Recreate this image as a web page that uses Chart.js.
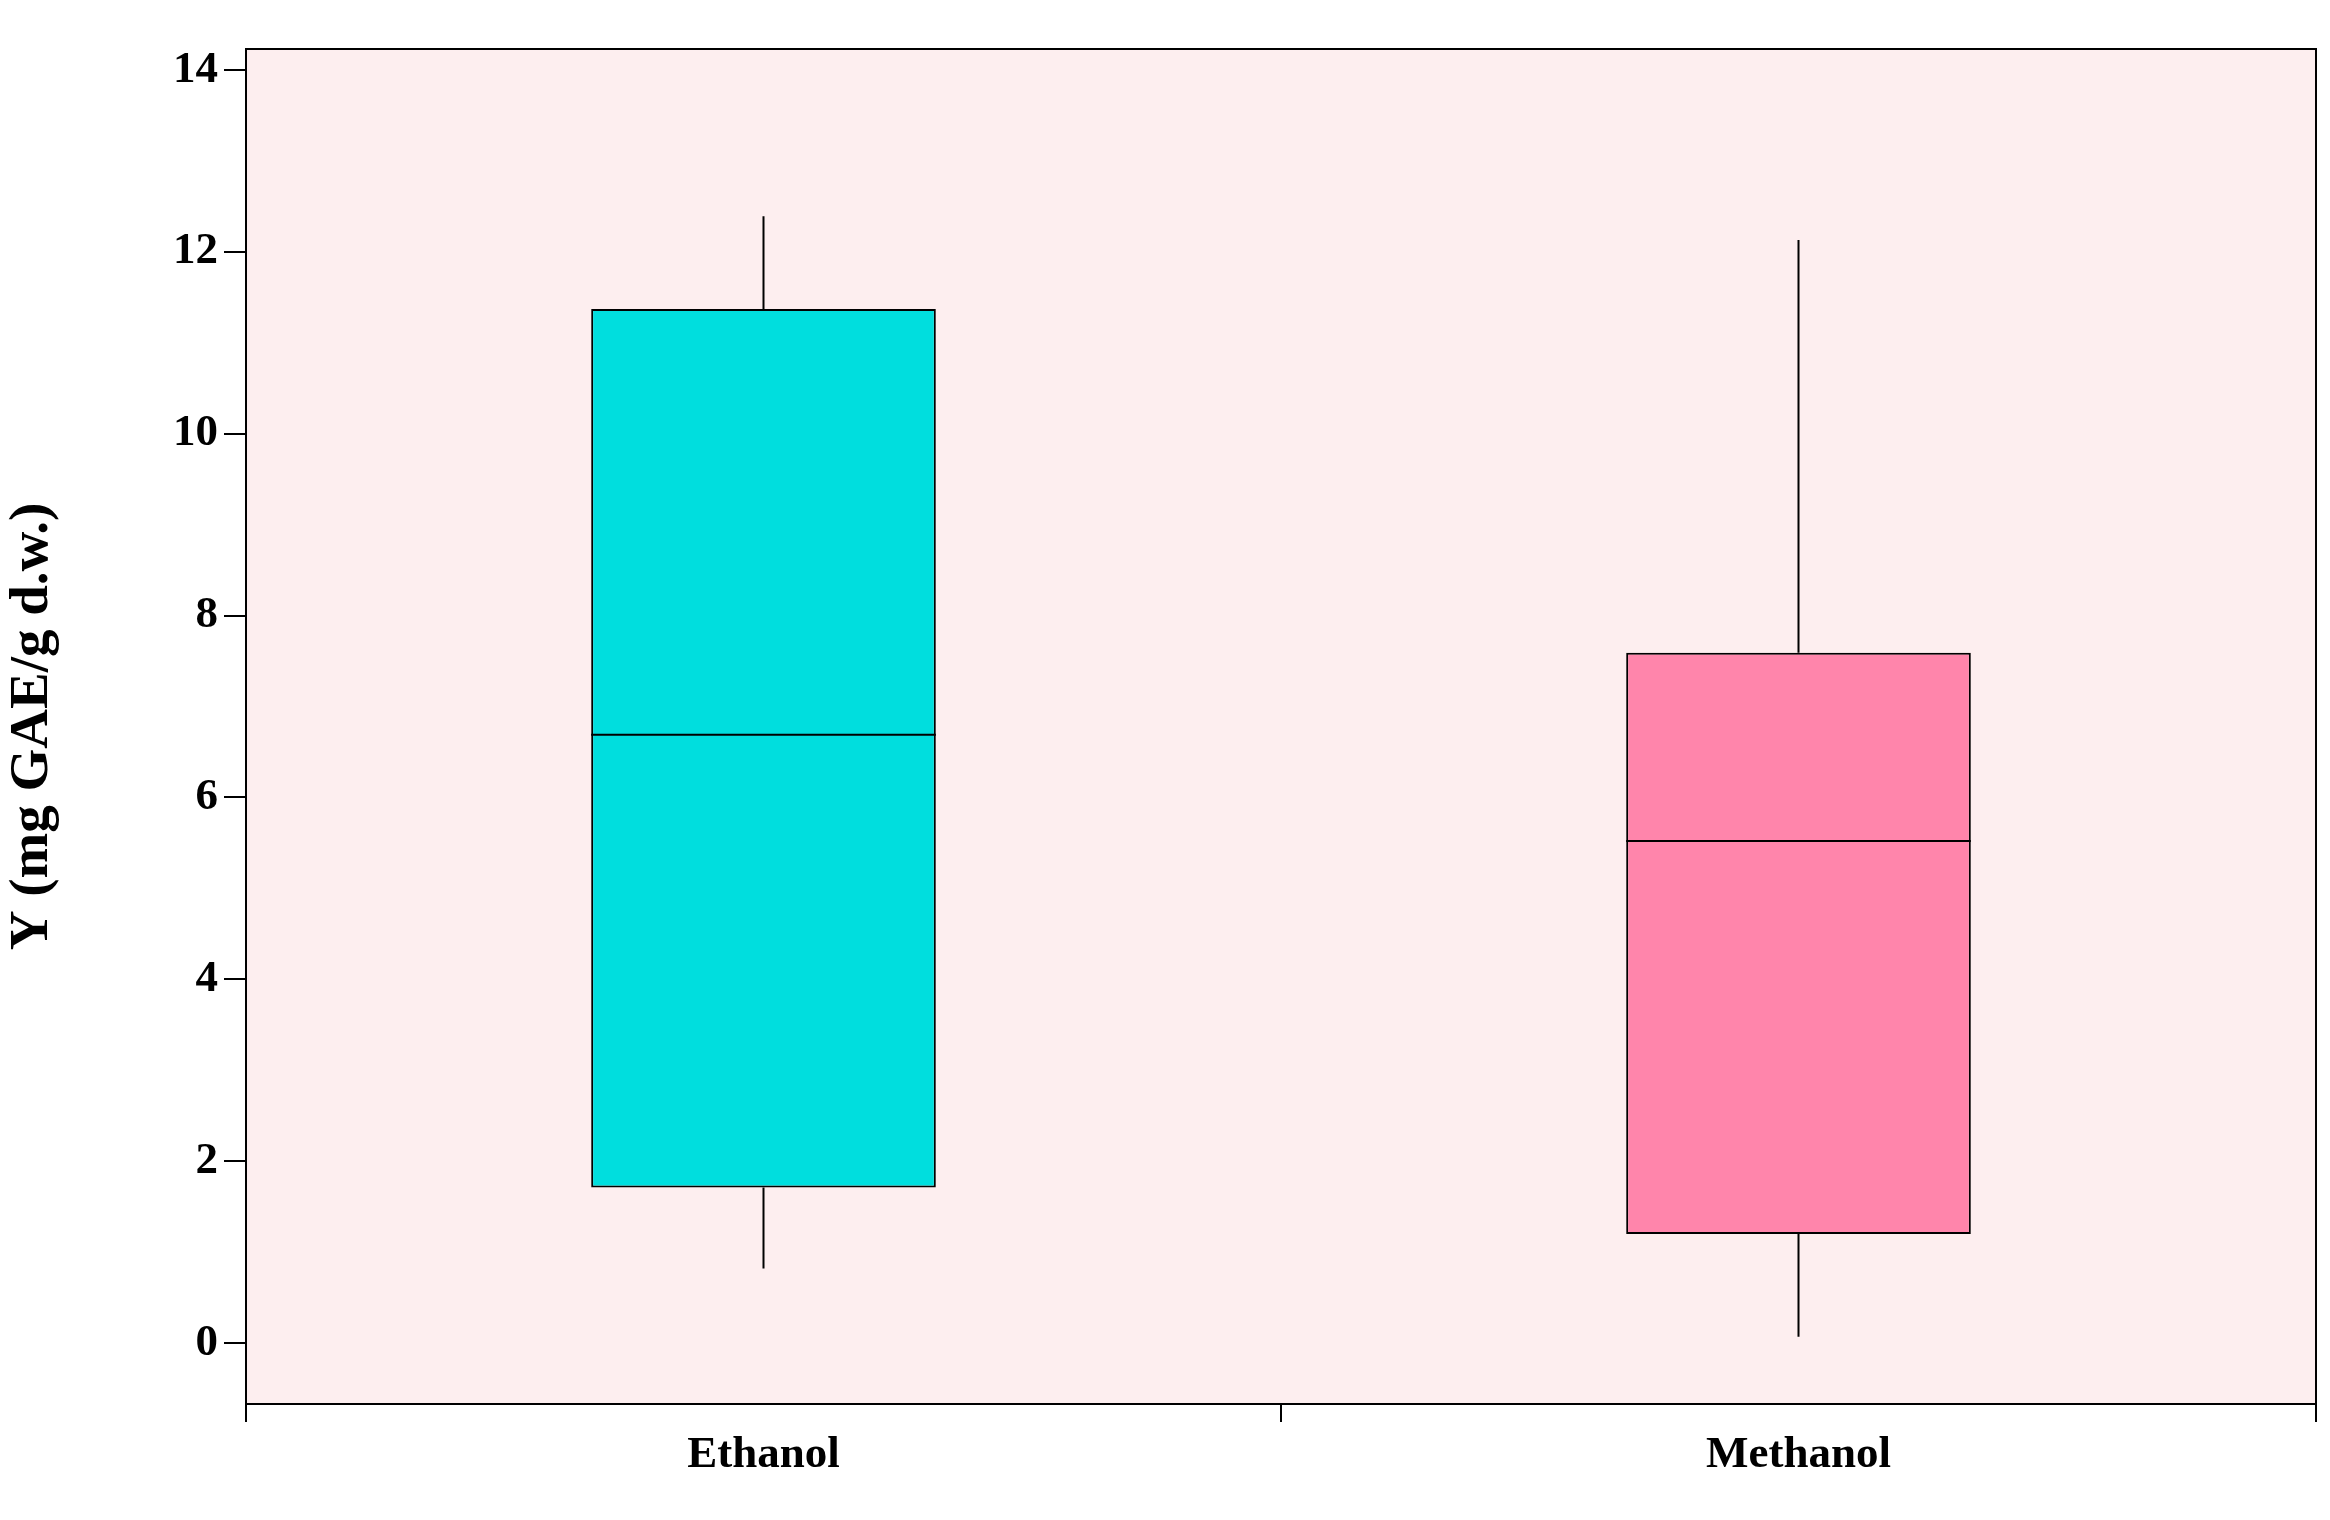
<!DOCTYPE html>
<html>
<head>
<meta charset="utf-8">
<script src="https://cdn.jsdelivr.net/npm/chart.js@4/dist/chart.umd.min.js"></script>
<style>
  html, body { margin: 0; padding: 0; background: #fff; }
  #wrap { width: 2330px; height: 1520px; }
</style>
</head>
<body>
<div id="wrap"><canvas id="boxChart"></canvas></div>
<script>
// Data
const categories = ["Ethanol", "Methanol"];
const whiskerLow = [0.82, 0.07];
const q1 = [1.71, 1.20];
const median = [6.69, 5.52];
const q3 = [11.37, 7.59];
const whiskerHigh = [12.39, 12.13];
const yTicks = [0, 2, 4, 6, 8, 10, 12, 14];
const boxColors = ["#00dede", "#ff85ab"];

// Plot background, frame, whiskers and median lines
const boxExtras = {
  id: 'boxExtras',
  beforeDatasetsDraw(chart) {
    const { ctx, chartArea: a } = chart;
    ctx.save();
    ctx.fillStyle = '#fdeeef';
    ctx.fillRect(a.left, a.top, a.right - a.left, a.bottom - a.top);
    const x = chart.scales.x, y = chart.scales.y;
    ctx.strokeStyle = '#000';
    ctx.lineWidth = 2;
    categories.forEach((c, i) => {
      const px = x.getPixelForValue(i);
      ctx.beginPath();
      ctx.moveTo(px, y.getPixelForValue(whiskerLow[i]));
      ctx.lineTo(px, y.getPixelForValue(q1[i]));
      ctx.moveTo(px, y.getPixelForValue(q3[i]));
      ctx.lineTo(px, y.getPixelForValue(whiskerHigh[i]));
      ctx.stroke();
    });
    ctx.restore();
  },
  afterDatasetsDraw(chart) {
    const { ctx, chartArea: a } = chart;
    const y = chart.scales.y;
    const meta = chart.getDatasetMeta(0);
    ctx.save();
    ctx.strokeStyle = '#000';
    ctx.lineWidth = 2;
    meta.data.forEach((bar, i) => {
      const py = y.getPixelForValue(median[i]);
      ctx.beginPath();
      ctx.moveTo(bar.x - bar.width / 2, py);
      ctx.lineTo(bar.x + bar.width / 2, py);
      ctx.stroke();
    });
    ctx.lineWidth = 2;
    ctx.strokeRect(a.left, a.top, a.right - a.left, a.bottom - a.top);
    ctx.restore();
  }
};

const tickFont = { family: 'Liberation Serif', weight: 'bold', size: 45 };

new Chart(document.getElementById('boxChart'), {
  type: 'bar',
  data: {
    labels: categories,
    datasets: [{
      data: categories.map((c, i) => [q1[i], q3[i]]),
      backgroundColor: boxColors,
      borderColor: '#000',
      borderWidth: 2,
      borderSkipped: false,
      barPercentage: 0.333,
      categoryPercentage: 1
    }]
  },
  options: {
    responsive: true,
    maintainAspectRatio: false,
    animation: false,
    layout: { padding: { left: 0, top: 49, right: 14, bottom: 0 } },
    plugins: { legend: { display: false }, tooltip: { enabled: false } },
    scales: {
      x: {
        offset: true,
        grid: { display: true, drawOnChartArea: false, tickLength: 18, color: '#000', lineWidth: 2 },
        border: { display: false },
        ticks: { color: '#000', font: tickFont, padding: 6 },
        afterFit(s) { s.height = 116; }
      },
      y: {
        min: -0.67,
        max: 14.23,
        afterBuildTicks(s) { s.ticks = yTicks.map(v => ({ value: v })); },
        grid: { display: true, drawOnChartArea: false, tickLength: 22, color: '#000', lineWidth: 2 },
        border: { display: false },
        ticks: { color: '#000', font: tickFont, padding: 6 },
        title: {
          display: true,
          text: 'Y (mg GAE/g d.w.)',
          color: '#000',
          font: { family: 'Liberation Serif', weight: 'bold', size: 55 },
          padding: { top: 0, bottom: 10 }
        },
        afterFit(s) { s.width = 246; }
      }
    }
  },
  plugins: [boxExtras]
});
</script>
</body>
</html>
